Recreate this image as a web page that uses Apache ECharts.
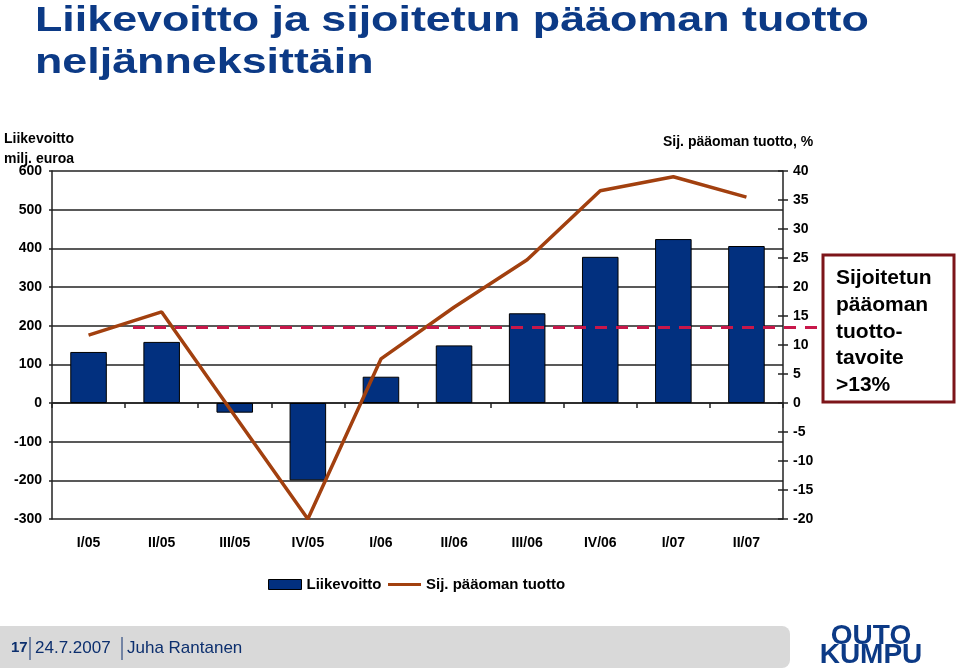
<!DOCTYPE html>
<html>
<head>
<meta charset="utf-8">
<script src="https://cdn.jsdelivr.net/npm/echarts@6/dist/echarts.min.js"></script>
<style>
html,body{margin:0;padding:0;background:#fff;}
#chart{width:960px;height:671px;}
</style>
</head>
<body>
<div id="chart"></div>
<script>
// ---- data ----
var categories = ['I/05','II/05','III/05','IV/05','I/06','II/06','III/06','IV/06','I/07','II/07'];
var liikevoitto = [132, 158, -25, -200, 68, 149, 232, 378, 424, 406];
var tuotto = [11.7, 15.7, -2.2, -20, 7.6, 16.5, 24.7, 36.6, 39.0, 35.5];
var tavoite = 13;
var leftTicks = { min: -300, max: 600, interval: 100 };
var rightTicks = { min: -20, max: 40, interval: 5 };

var FONT = '"Liberation Sans", Arial, Helvetica, sans-serif';
var NAVY = '#0c3a86';

var chart = echarts.init(document.getElementById('chart'), null, { renderer: 'canvas' });

var labelStyle = { fontFamily: FONT, fontSize: 14, fontWeight: 'bold', color: '#000' };

var option = {
  backgroundColor: '#fff',
  animation: false,
  grid: { left: 52, right: 177, top: 171, bottom: 152, containLabel: false },
  legend: {
    left: 268, top: 577, padding: 0,
    itemWidth: 33, itemHeight: 10, itemGap: 5,
    textStyle: { fontFamily: FONT, fontSize: 15, fontWeight: 'bold', color: '#000' },
    data: [
      { name: 'Liikevoitto', icon: 'rect', itemStyle: { color: '#02307f', borderColor: '#000', borderWidth: 1 } },
      { name: 'Sij. pääoman tuotto', itemStyle: { color: 'rgba(0,0,0,0)', borderWidth: 0, opacity: 0 }, lineStyle: { width: 3, color: '#a2400f' } }
    ]
  },
  xAxis: [
    {
      type: 'category', data: categories, boundaryGap: true,
      axisLine: { onZero: true, onZeroAxisIndex: 0, lineStyle: { color: '#222', width: 1.5 } },
      axisTick: { show: true, length: 5, inside: false, lineStyle: { color: '#222', width: 1.5 } },
      axisLabel: { show: false }, splitLine: { show: false }
    },
    {
      type: 'category', data: categories, boundaryGap: true,
      axisLine: { show: false, onZero: true, onZeroAxisIndex: 0 },
      axisTick: { show: true, length: 5, inside: true, lineStyle: { color: '#222', width: 1.5 } },
      axisLabel: { show: false }, splitLine: { show: false }
    },
    {
      type: 'category', data: categories, boundaryGap: true, position: 'bottom',
      axisLine: { show: false, onZero: false },
      axisTick: { show: false },
      axisLabel: Object.assign({ margin: 17, interval: 0 }, labelStyle),
      splitLine: { show: false }
    }
  ],
  yAxis: [
    {
      type: 'value', position: 'left', min: leftTicks.min, max: leftTicks.max, interval: leftTicks.interval,
      axisLine: { show: true, lineStyle: { color: '#222', width: 1.5 } },
      axisTick: { show: true, length: 3, lineStyle: { color: '#222', width: 1.5 } },
      axisLabel: Object.assign({ margin: 10 }, labelStyle),
      splitLine: { show: true, lineStyle: { color: '#222', width: 1.5 } }
    },
    {
      type: 'value', position: 'right', min: rightTicks.min, max: rightTicks.max, interval: rightTicks.interval,
      axisLine: { show: true, lineStyle: { color: '#222', width: 1.5 } },
      axisTick: { show: true, length: 5, inside: false, lineStyle: { color: '#222', width: 1.5 } },
      axisLabel: Object.assign({ margin: 10 }, labelStyle),
      splitLine: { show: false }
    },
    {
      type: 'value', position: 'right', min: rightTicks.min, max: rightTicks.max, interval: rightTicks.interval,
      axisLine: { show: false },
      axisTick: { show: true, length: 5, inside: true, lineStyle: { color: '#222', width: 1.5 } },
      axisLabel: { show: false },
      splitLine: { show: false }
    }
  ],
  series: [
    {
      name: 'Liikevoitto', type: 'bar', xAxisIndex: 0, yAxisIndex: 0,
      barWidth: '50%',
      itemStyle: { color: '#02307f', borderColor: '#000', borderWidth: 1 },
      data: liikevoitto
    },
    {
      name: 'Sij. pääoman tuotto', type: 'line', xAxisIndex: 0, yAxisIndex: 1,
      symbol: 'none', smooth: false,
      lineStyle: { color: '#a2400f', width: 3.5 },
      itemStyle: { color: '#a2400f' },
      data: tuotto,
      markLine: {
        silent: true, symbol: ['none', 'none'], label: { show: false },
        lineStyle: { color: '#c8174a', width: 3, type: [12, 9] },
        data: [[ { x: 133, yAxis: tavoite }, { x: 823, yAxis: tavoite } ]]
      }
    }
  ],
  graphic: [
    // title
    { type: 'text', x: 35, y: 21, scaleX: 1.28, style: { text: 'Liikevoitto ja sijoitetun pääoman tuotto', font: 'bold 35px ' + FONT, fill: NAVY, verticalAlign: 'middle' } },
    { type: 'text', x: 35, y: 63, scaleX: 1.28, style: { text: 'neljänneksittäin', font: 'bold 35px ' + FONT, fill: NAVY, verticalAlign: 'middle' } },
    // axis names
    { type: 'text', x: 4, y: 139, style: { text: 'Liikevoitto', font: 'bold 14px ' + FONT, fill: '#000', verticalAlign: 'middle' } },
    { type: 'text', x: 4, y: 159, style: { text: 'milj. euroa', font: 'bold 14px ' + FONT, fill: '#000', verticalAlign: 'middle' } },
    { type: 'text', x: 663, y: 142, style: { text: 'Sij. pääoman tuotto, %', font: 'bold 14px ' + FONT, fill: '#000', verticalAlign: 'middle' } },
    // target box
    { type: 'rect', shape: { x: 823, y: 255, width: 131, height: 147 }, style: { fill: '#fff', stroke: '#7d1519', lineWidth: 3 }, z: 10 },
    { type: 'text', x: 836, y: 265, z: 11, style: { text: 'Sijoitetun\npääoman\ntuotto-\ntavoite\n>13%', font: 'bold 21px ' + FONT, fill: '#000', lineHeight: 26.7, verticalAlign: 'top' } },
    // footer
    { type: 'rect', shape: { x: -10, y: 626, width: 800, height: 42, r: 8 }, style: { fill: '#d9d9d9' } },
    { type: 'text', x: 11, y: 648, style: { text: '17', font: 'bold 15px ' + FONT, fill: '#0c2f6e', verticalAlign: 'middle' } },
    { type: 'line', shape: { x1: 30, y1: 637, x2: 30, y2: 660 }, style: { stroke: '#0c2f6e', lineWidth: 1 } },
    { type: 'text', x: 35, y: 648, style: { text: '24.7.2007', font: '17px ' + FONT, fill: '#0c2f6e', verticalAlign: 'middle' } },
    { type: 'line', shape: { x1: 122, y1: 637, x2: 122, y2: 660 }, style: { stroke: '#0c2f6e', lineWidth: 1 } },
    { type: 'text', x: 127, y: 648, style: { text: 'Juha Rantanen', font: '17px ' + FONT, fill: '#0c2f6e', verticalAlign: 'middle' } },
    // logo
    { type: 'text', x: 871, y: 636, style: { text: 'OUTO', font: 'bold 28px ' + FONT, fill: '#0c3a86', align: 'center', verticalAlign: 'middle' } },
    { type: 'text', x: 871, y: 655, style: { text: 'KUMPU', font: 'bold 28px ' + FONT, fill: '#0c3a86', align: 'center', verticalAlign: 'middle' } }
  ]
};

chart.setOption(option);
</script>
</body>
</html>
